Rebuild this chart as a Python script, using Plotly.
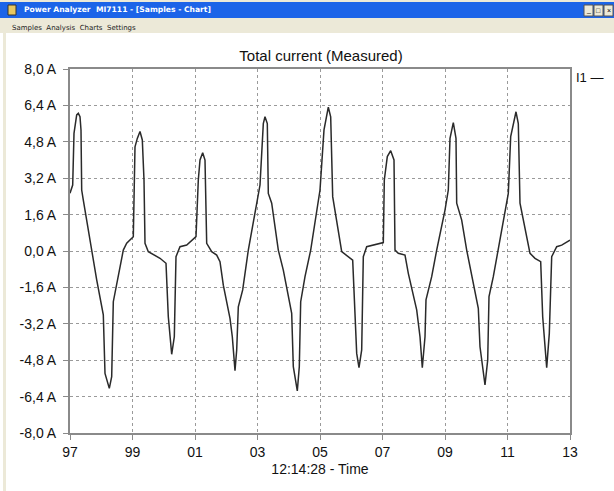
import plotly.graph_objects as go

# ---- data ----
time_s = [0.000, 0.086, 0.128, 0.214, 0.266, 0.320, 0.352, 0.374, 0.426, 0.694,
          0.854, 1.066, 1.120, 1.258, 1.334, 1.386, 1.494, 1.706, 1.814, 2.026,
          2.080, 2.154, 2.240, 2.314, 2.368, 2.400, 2.506, 2.720, 2.880, 3.072,
          3.146, 3.254, 3.338, 3.392, 3.520, 3.734, 3.894, 4.032, 4.106, 4.160,
          4.246, 4.320, 4.374, 4.534, 4.694, 4.800, 4.906, 5.120, 5.194, 5.280,
          5.334, 5.386, 5.526, 5.706, 6.080, 6.186, 6.240, 6.314, 6.346, 6.454,
          6.666, 6.826, 7.094, 7.146, 7.274, 7.338, 7.382, 7.520, 7.702, 8.000,
          8.128, 8.266, 8.342, 8.406, 8.694, 8.854, 9.046, 9.174, 9.248, 9.334,
          9.386, 9.494, 9.706, 10.026, 10.058, 10.154, 10.262, 10.368, 10.400, 10.506,
          10.720, 10.826, 11.094, 11.200, 11.274, 11.360, 11.392, 11.574, 11.734, 12.000,
          12.106, 12.160, 12.266, 12.352, 12.374, 12.534, 12.694, 13.066, 13.120, 13.280,
          13.366, 13.408, 13.546, 13.706, 14.026, 14.102, 14.272, 14.346, 14.400, 14.720,
          14.880, 15.062, 15.126, 15.254, 15.338, 15.414, 15.574, 15.734, 15.840, 16.000]

current_a = [2.54, 2.90, 5.17, 5.98, 6.05, 5.90, 5.32, 2.68, 2.24, 0.04,
             -1.27, -2.81, -5.38, -6.04, -5.52, -2.23, -1.42, 0.04, 0.34, 0.63,
             4.58, 4.95, 5.25, 4.88, 3.12, 0.34, -0.03, -0.18, -0.32, -0.54,
             -2.89, -4.54, -3.77, -0.25, 0.19, 0.26, 0.48, 0.63, 3.12, 4.00,
             4.32, 4.00, 0.34, -0.03, -0.18, -0.47, -1.50, -2.96, -3.77, -5.26,
             -4.35, -2.45, -1.71, 0.04, 2.90, 5.60, 5.90, 5.60, 2.53, 2.10,
             0.04, -0.84, -2.74, -5.08, -6.15, -5.08, -2.23, -1.13, 0.04, 2.68,
             5.32, 6.32, 5.90, 2.39, -0.03, -0.18, -0.40, -4.50, -5.13, -4.35,
             -0.25, 0.19, 0.26, 0.37, 3.12, 4.15, 4.41, 4.00, 0.04, -0.10,
             -0.18, -0.98, -2.59, -3.77, -5.13, -3.77, -2.15, -1.13, 0.04, 1.80,
             2.68, 4.95, 5.64, 4.95, 2.10, 1.36, 0.04, -2.52, -4.21, -5.89,
             -4.80, -2.00, -1.13, 0.04, 2.53, 5.03, 6.12, 5.60, 2.10, -0.10,
             -0.32, -0.47, -2.89, -5.13, -3.62, -0.25, 0.19, 0.26, 0.34, 0.48]

x_tick_vals = [0, 2, 4, 6, 8, 10, 12, 14, 16]
x_tick_text = ["97", "99", "01", "03", "05", "07", "09", "11", "13"]
y_tick_vals = [-8.0, -6.4, -4.8, -3.2, -1.6, 0.0, 1.6, 3.2, 4.8, 6.4, 8.0]
y_tick_text = ["-8,0 A", "-6,4 A", "-4,8 A", "-3,2 A", "-1,6 A", "0,0 A",
               "1,6 A", "3,2 A", "4,8 A", "6,4 A", "8,0 A"]

W, H = 614, 491
L, R, T, B = 70, 44, 69, 58
PW, PH = W - L - R, H - T - B


def px(x):
    return (x - L) / PW


def py(y):
    return (H - B - y) / PH


FONT = "Arial, 'Liberation Sans', sans-serif"
UI_FONT = "Tahoma, 'DejaVu Sans', sans-serif"

fig = go.Figure()
fig.add_trace(go.Scatter(x=time_s, y=current_a, mode="lines", name="I1",
                         line=dict(color="#2a2a2a", width=1.5), showlegend=False,
                         hoverinfo="skip"))

shapes = [
    dict(type="rect", xref="paper", yref="paper", x0=px(0), x1=px(W), y0=py(18), y1=py(0),
         fillcolor="#ECE9D8", line_width=0, layer="below"),
    dict(type="rect", xref="paper", yref="paper", x0=px(0), x1=px(W), y0=py(18), y1=py(2),
         fillcolor="#1C64E8", line_width=0, layer="below"),
    dict(type="rect", xref="paper", yref="paper", x0=px(0), x1=px(W), y0=py(33), y1=py(18),
         fillcolor="#ECE9D8", line_width=0, layer="below"),
    dict(type="rect", xref="paper", yref="paper", x0=px(3), x1=px(6), y0=py(H), y1=py(33),
         fillcolor="#ECE9D8", line_width=0, layer="below"),
    dict(type="rect", xref="paper", yref="paper", x0=px(8), x1=px(16), y0=py(15), y1=py(5),
         fillcolor="#E8C860", line=dict(color="#333", width=1), layer="below"),
]
for bx in (584, 594, 604):
    shapes.append(dict(type="rect", xref="paper", yref="paper", x0=px(bx), x1=px(bx + 9),
                       y0=py(16), y1=py(5), fillcolor="#ECE9D8",
                       line=dict(color="#555", width=1), layer="below"))

annotations = [
    dict(text="<b>Power Analyzer  MI7111 - [Samples - Chart]</b>", xref="paper", yref="paper",
         x=px(22), y=py(10), xanchor="left", yanchor="middle", showarrow=False,
         font=dict(family=UI_FONT, size=7.6, color="white")),
    dict(text="Samples  Analysis  Charts  Settings", xref="paper", yref="paper",
         x=px(10), y=py(28), xanchor="left", yanchor="middle", showarrow=False,
         font=dict(family=UI_FONT, size=7, color="#222")),
    dict(text="_", xref="paper", yref="paper", x=px(588.5), y=py(10), showarrow=False,
         font=dict(size=7, color="#000"), xanchor="center", yanchor="middle"),
    dict(text="□", xref="paper", yref="paper", x=px(598.5), y=py(10.5), showarrow=False,
         font=dict(size=7, color="#000"), xanchor="center", yanchor="middle"),
    dict(text="×", xref="paper", yref="paper", x=px(608.5), y=py(10.5), showarrow=False,
         font=dict(size=7, color="#000"), xanchor="center", yanchor="middle"),
    dict(text="I1 —", xref="paper", yref="paper", x=px(575), y=py(77), showarrow=False,
         xanchor="left", yanchor="middle", borderpad=0,
         font=dict(family=FONT, size=13, color="#111")),
]

fig.update_layout(
    width=W, height=H,
    margin=dict(l=L, r=R, t=T, b=B, pad=0),
    paper_bgcolor="white", plot_bgcolor="white",
    title=dict(text="Total current (Measured)", x=321 / W, xanchor="center",
               y=1 - 56 / H, yanchor="middle",
               font=dict(family=FONT, size=15, color="#111")),
    font=dict(family=FONT, size=13, color="#111"),
    shapes=shapes,
    annotations=annotations,
    xaxis=dict(range=[0, 16], tickvals=x_tick_vals, ticktext=x_tick_text,
               showgrid=True, gridcolor="#9a9a9a", griddash="dot", gridwidth=1,
               showline=True, linecolor="#8a8a8a", linewidth=2, mirror=True,
               ticks="outside", ticklen=5, tickcolor="#8a8a8a",
               zeroline=False, fixedrange=True,
               tickfont=dict(family=FONT, size=14, color="#111"),
               title=dict(text="12:14:28 - Time", standoff=5,
                          font=dict(family=FONT, size=14, color="#111"))),
    yaxis=dict(range=[-8, 8], tickvals=y_tick_vals, ticktext=y_tick_text,
               showgrid=True, gridcolor="#9a9a9a", griddash="dot", gridwidth=1,
               showline=True, linecolor="#8a8a8a", linewidth=2, mirror=True,
               ticks="outside", ticklen=5, tickcolor="#8a8a8a",
               ticklabelstandoff=4,
               zeroline=False, fixedrange=True,
               tickfont=dict(family=FONT, size=14, color="#111")),
)

fig.write_html("out.html",
               config={"displayModeBar": False, "staticPlot": True},
               post_script="document.body.style.margin='0';document.body.style.overflow='hidden';")
